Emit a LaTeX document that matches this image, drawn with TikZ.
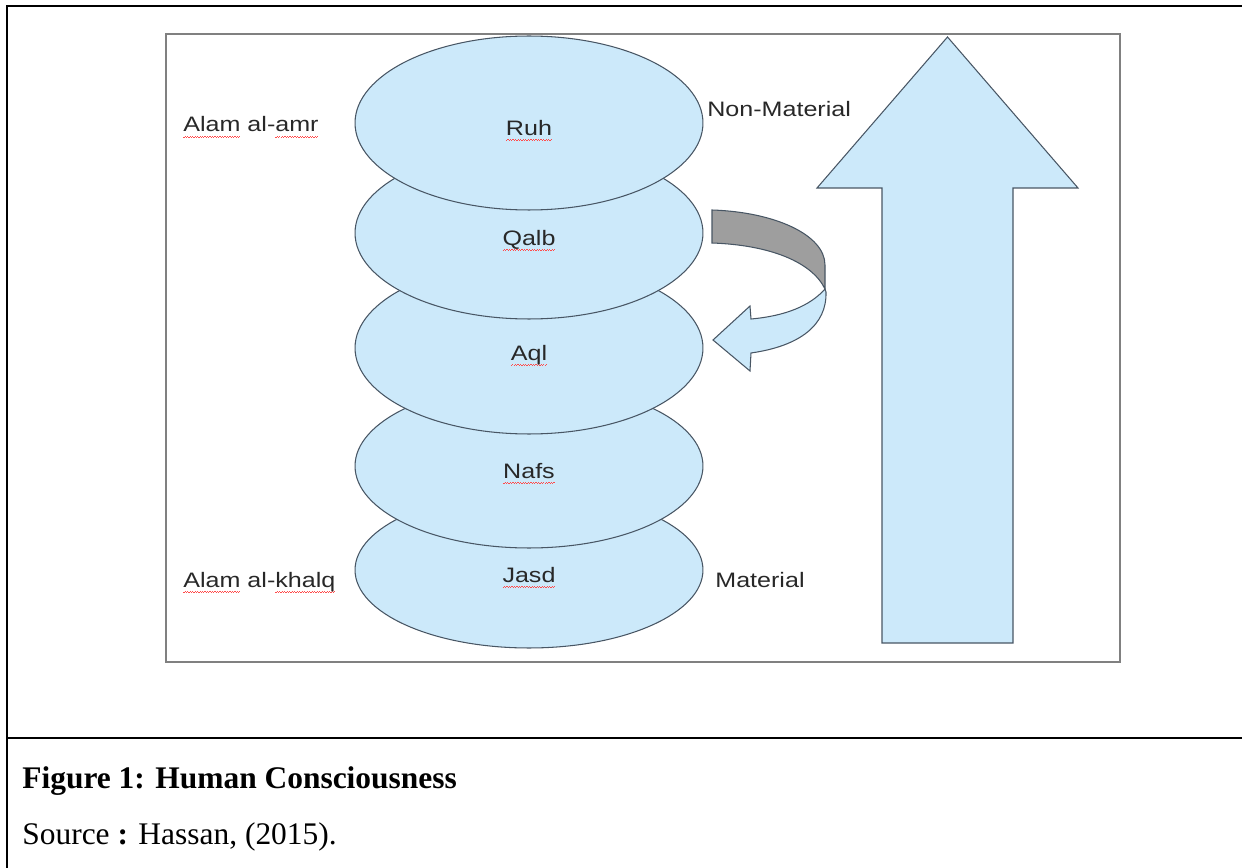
\documentclass[tikz,border=0pt]{standalone}
\usepackage{fontspec}
\setmainfont{Liberation Serif}
\newfontfamily\diafont[FakeStretch=1.2]{Liberation Sans}
\usepackage{xcolor}
\usepackage{tikz}
\usetikzlibrary{shapes.geometric}
\definecolor{skyfill}{RGB}{204,233,250}
\definecolor{edgecol}{RGB}{72,86,100}
\definecolor{bandgray}{RGB}{158,158,158}
\definecolor{labelgray}{RGB}{40,40,40}
\newsavebox\spellbox
\newcommand\spell[1]{\sbox\spellbox{#1}\rlap{\color{red!70}\hbox to \wd\spellbox{\xleaders\hbox to 1.4pt{\rule[-3.2pt]{0.7pt}{0.45pt}\rule[-2.6pt]{0.7pt}{0.45pt}}\hfill}}\usebox\spellbox}
\tikzset{
  layer/.style={ellipse,draw=edgecol,line width=0.6pt,fill=skyfill,inner sep=0pt,
    minimum width=6.96cm,text height=14pt,text depth=0pt,text=labelgray,
    font=\diafont\fontsize{11.9}{14}\selectfont},
  side/.style={anchor=base west,inner sep=0pt,text=labelgray,font=\diafont\fontsize{11.9}{14}\selectfont},
  shape edge/.style={draw=edgecol,line width=0.6pt,line join=miter}
}

\begin{document}
\begin{tikzpicture}[x=0.02cm,y=-0.02cm]
\useasboundingbox (0,0) rectangle (1242,868);
\draw[line width=1.2pt] (1242,6) to (7,6) to (7,868);
\draw[line width=1.2pt] (7,738) to (1242,738);
\draw[line width=1.2pt,color=gray] (166,34) rectangle (1120,662);
\node[layer,minimum height=3.12cm] (jasd) at (529,570) {\spell{Jasd}};
\node[layer,minimum height=3.28cm] (nafs) at (529,466) {\spell{Nafs}};
\node[layer,minimum height=3.44cm] (aql) at (529,348) {\spell{Aql}};
\node[layer,minimum height=3.44cm] (qalb) at (529,233) {\spell{Qalb}};
\node[layer,minimum height=3.48cm] (ruh) at (529,123) {\spell{Ruh}};
\node[side] (amr) at (183,132) {\spell{Alam} al-\spell{amr}};
\node[side] (khalq) at (183,587) {\spell{Alam} al-\spell{khalq}};
\node[side] (nonmat) at (707,117) {Non-Material};
\node[side] (mat) at (715,587) {Material};
\draw[shape edge,fill=skyfill] (882,643) to (882,188) to (817,188) to (947.5,37)
  to (1078,188) to (1013,188) to (1013,643) -- cycle;
\draw[shape edge,fill=bandgray] (712,210) .. controls (775,212) and (825,235) .. (825,265)
  to (825,289) .. controls (812,262) and (770,245) .. (712,243) -- cycle;
\draw[shape edge,fill=skyfill] (825,289) .. controls (810,306) and (785,316) .. (751,319)
  to (750,306) to (713,340) to (750,371) to (751,353)
  .. controls (800,346) and (827,325) .. (826,292) -- cycle;
\node[anchor=base west,inner sep=0pt,font=\bfseries\fontsize{17.9}{20}\selectfont] (fig) at (22,788)
  {Figure 1: Human Consciousness};
\node[anchor=base west,inner sep=0pt,font=\fontsize{17.9}{20}\selectfont] (src) at (22,844)
  {Source \textbf{:} Hassan, (2015).};
\end{tikzpicture}
\end{document}
